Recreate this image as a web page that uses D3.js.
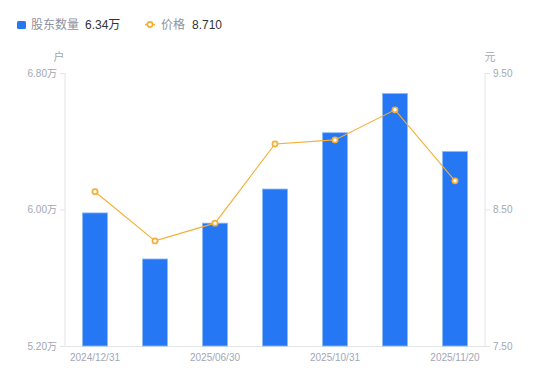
<!DOCTYPE html>
<html>
<head>
<meta charset="utf-8">
<script src="https://cdn.jsdelivr.net/npm/d3@7"></script>
<style>
  html, body { margin: 0; padding: 0; background: #fff; }
  svg { display: block; font-family: "Liberation Sans", Arial, "Noto Sans CJK SC", sans-serif; }
</style>
</head>
<body>
<svg id="chart" width="550" height="381"></svg>
<script>
// data
const dates = ['2024/12/31', '2025/03/31', '2025/06/30', '2025/09/30', '2025/10/31', '2025/11/10', '2025/11/20'];
const holders = [5.98, 5.71, 5.92, 6.12, 6.45, 6.68, 6.34]; // 万户
const prices = [8.63, 8.27, 8.40, 8.98, 9.01, 9.23, 8.71];   // 元
const shownDates = ['2024/12/31', '2025/06/30', '2025/10/31', '2025/11/20'];
const leftTicks = [5.20, 6.00, 6.80];
const rightTicks = [7.50, 8.50, 9.50];

const svg = d3.select('#chart');
const margin = { top: 73, right: 65, bottom: 35, left: 65 };
const width = +svg.attr('width');
const height = +svg.attr('height');

const blue = '#2577f3';
const orange = '#f6ae35';
const axisColor = '#e3e4e8';
const labelColor = '#a3a7b4';

const x = d3.scaleBand()
    .domain(dates)
    .range([margin.left, width - margin.right])
    .paddingInner(0.5833)
    .paddingOuter(0.2917);

const yLeft = d3.scaleLinear()
    .domain([5.20, 6.80])
    .range([height - margin.bottom, margin.top]);

const yRight = d3.scaleLinear()
    .domain([7.50, 9.50])
    .range([height - margin.bottom, margin.top]);

// axes
const leftAxis = svg.append('g')
    .attr('transform', `translate(${margin.left},0)`)
    .call(d3.axisLeft(yLeft).tickValues(leftTicks).tickSize(5).tickPadding(3)
        .tickFormat(d => d3.format('.2f')(d) + '万'));

const rightAxis = svg.append('g')
    .attr('transform', `translate(${width - margin.right},0)`)
    .call(d3.axisRight(yRight).tickValues(rightTicks).tickSize(5).tickPadding(3)
        .tickFormat(d3.format('.2f')));

const bottomAxis = svg.append('g')
    .attr('transform', `translate(0,${height - margin.bottom})`)
    .call(d3.axisBottom(x).tickValues(shownDates).tickSize(0).tickPadding(8));

[leftAxis, rightAxis, bottomAxis].forEach(g => {
    g.select('.domain').attr('stroke', axisColor).attr('stroke-width', 1);
    g.selectAll('.tick line').attr('stroke', axisColor);
    g.selectAll('.tick text')
        .attr('fill', labelColor)
        .attr('font-size', 10)
        .attr('font-family', '"Liberation Sans", Arial, "Noto Sans CJK SC", sans-serif');
});
leftAxis.select('.domain').attr('d', `M0,${margin.top}V${height - margin.bottom}`);
rightAxis.select('.domain').attr('d', `M0,${margin.top}V${height - margin.bottom}`);

// unit labels
svg.append('text')
    .attr('x', 59).attr('y', 61)
    .attr('text-anchor', 'middle')
    .attr('fill', labelColor)
    .attr('font-size', 11)
    .text('户');

svg.append('text')
    .attr('x', 490).attr('y', 61)
    .attr('text-anchor', 'middle')
    .attr('fill', labelColor)
    .attr('font-size', 11)
    .text('元');

// bars
svg.append('g')
    .selectAll('rect')
    .data(holders)
    .join('rect')
    .attr('x', (d, i) => x(dates[i]))
    .attr('y', d => yLeft(d))
    .attr('width', x.bandwidth())
    .attr('height', d => yLeft(5.20) - yLeft(d))
    .attr('fill', blue)
    .attr('stroke', '#8dbaf8')
    .attr('stroke-width', 0.8);

// price line
const line = d3.line()
    .x((d, i) => x(dates[i]) + x.bandwidth() / 2)
    .y(d => yRight(d));

svg.append('path')
    .datum(prices)
    .attr('fill', 'none')
    .attr('stroke', orange)
    .attr('stroke-width', 1.1)
    .attr('d', line);

svg.append('g')
    .selectAll('circle')
    .data(prices)
    .join('circle')
    .attr('cx', (d, i) => x(dates[i]) + x.bandwidth() / 2)
    .attr('cy', d => yRight(d))
    .attr('r', 2.6)
    .attr('fill', '#fff')
    .attr('stroke', orange)
    .attr('stroke-width', 1.7);

// legend
const legend = svg.append('g').attr('font-size', 12);

legend.append('rect')
    .attr('x', 17).attr('y', 21)
    .attr('width', 9).attr('height', 8)
    .attr('rx', 1.5)
    .attr('fill', blue);

legend.append('text')
    .attr('x', 31).attr('y', 29)
    .attr('fill', '#8e92a0')
    .text('股东数量');

legend.append('text')
    .attr('x', 85).attr('y', 29)
    .attr('fill', '#333')
    .text(d3.format('.2f')(holders[holders.length - 1]) + '万');

legend.append('line')
    .attr('x1', 145).attr('x2', 155)
    .attr('y1', 24.5).attr('y2', 24.5)
    .attr('stroke', orange)
    .attr('stroke-width', 1.5);

legend.append('circle')
    .attr('cx', 150).attr('cy', 24.5)
    .attr('r', 2.6)
    .attr('fill', '#fff')
    .attr('stroke', orange)
    .attr('stroke-width', 1.7);

legend.append('text')
    .attr('x', 161).attr('y', 29)
    .attr('fill', '#8e92a0')
    .text('价格');

legend.append('text')
    .attr('x', 192).attr('y', 29)
    .attr('fill', '#333')
    .text(d3.format('.3f')(prices[prices.length - 1]));
</script>
</body>
</html>
